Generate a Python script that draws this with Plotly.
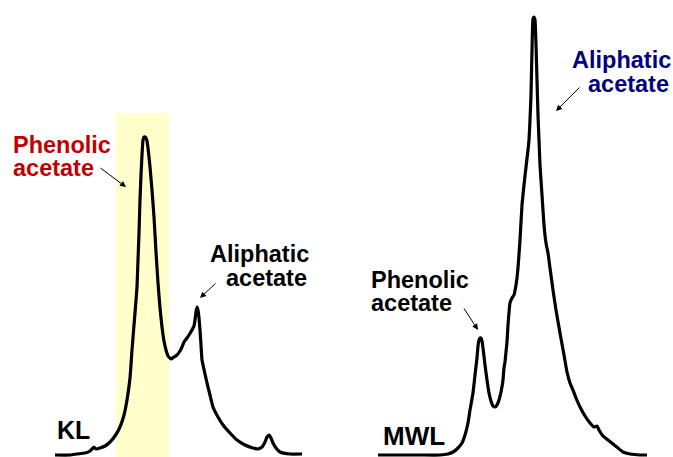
import plotly.graph_objects as go

# ---- data: KL spectrum (position, intensity above baseline) ----
kl_x = [55, 70, 77, 85, 90, 92, 94, 96, 100, 105, 110, 115, 120, 124, 127, 130, 132, 134, 135, 137,
        138, 139, 140, 141, 142, 143, 144, 145, 146, 147, 148, 149, 150, 152, 154, 156, 158, 160, 162,
        164, 166, 168, 171, 174, 177, 180, 182, 184, 187, 189, 192, 194, 195, 196, 197, 198, 199, 200,
        201, 202, 205, 207, 210, 213, 218, 223, 230, 237, 245, 253, 258, 262, 265, 267, 269, 271, 273,
        276, 280, 290, 302]
kl_px = [455, 455, 454, 453, 451, 449, 447, 449, 448, 446, 442, 436, 427, 415, 400, 378, 350, 325, 313, 287,
         260, 233, 200, 175, 155, 140, 137, 137, 138, 141, 148, 157, 167, 190, 217, 252, 283, 308, 327,
         341, 350, 356, 359, 357, 355, 351, 347, 342, 338, 335, 330, 326, 320, 312, 307, 310, 318, 330,
         345, 360, 374, 383, 395, 407, 417, 425, 433, 440, 445, 448, 449, 447, 442, 437, 435, 438, 443,
         448, 452, 454, 454]

# ---- data: MWL spectrum ----
mwl_x = [378, 400, 420, 440, 448, 453, 458, 462, 465, 468, 470, 473, 475, 477, 478, 479, 480, 481, 482, 483,
         485, 487, 489, 491, 493, 495, 497, 499, 501, 503, 504, 505, 506, 507, 508, 510, 512, 514, 516, 517,
         518, 520, 522, 524, 526, 528, 529, 530, 531, 532, 533, 534, 535, 536, 537, 538, 539, 540, 542, 544,
         546, 548, 550, 553, 556, 560, 564, 567, 570, 573, 576, 580, 585, 590, 594, 597, 599, 603, 608, 613,
         618, 623, 630, 640, 647]
mwl_px = [455, 455, 455, 455, 454, 452, 448, 443, 435, 423, 410, 393, 375, 358, 346, 340, 338, 338, 341, 348,
          365, 380, 393, 401, 406, 407, 405, 400, 392, 380, 368, 362, 352, 342, 325, 303, 298, 295, 285, 278,
          268, 240, 205, 185, 167, 150, 140, 120, 95, 50, 19, 17, 20, 45, 80, 115, 140, 165, 195, 225,
          243, 253, 268, 290, 310, 333, 355, 372, 383, 390, 398, 407, 416, 423, 427, 426, 430, 436, 440, 444,
          448, 452, 454, 455, 455]

BASE = 455
kl_y = [BASE - v for v in kl_px]
mwl_y = [BASE - v for v in mwl_px]

def Y(py):
    return BASE - py

fig = go.Figure()
fig.add_trace(go.Scatter(x=kl_x, y=kl_y, mode="lines",
                         line=dict(color="black", width=3.2, shape="spline", smoothing=0.4),
                         hoverinfo="skip", showlegend=False))
fig.add_trace(go.Scatter(x=mwl_x, y=mwl_y, mode="lines",
                         line=dict(color="black", width=3.2, shape="spline", smoothing=0.4),
                         hoverinfo="skip", showlegend=False))

# highlight band
fig.add_shape(type="rect", x0=116, x1=169, y0=Y(113), y1=Y(470), xref="x", yref="y",
              fillcolor="#ffffcc", line=dict(width=0), layer="below")

FONT = "Liberation Sans, Arial, Helvetica, sans-serif"
RED = "#c00000"
BLUE = "#000080"

labels = [
    ("Phenolic", 12, 144.5, "left", RED, 23.5),
    ("acetate", 12, 167.5, "left", RED, 23.5),
    ("Aliphatic", 310, 253.5, "right", "black", 23.5),
    ("acetate", 308, 277.5, "right", "black", 23.5),
    ("Aliphatic", 672, 59.5, "right", BLUE, 23.5),
    ("acetate", 670, 83.5, "right", BLUE, 23.5),
    ("Phenolic", 370, 279.5, "left", "black", 23.5),
    ("acetate", 370, 302.5, "left", "black", 23.5),
    ("KL", 56, 429.5, "left", "black", 25),
    ("MWL", 382, 436, "left", "black", 26),
]
for t, x, py, anc, col, sz in labels:
    fig.add_annotation(x=x, y=Y(py), text=t, showarrow=False, xanchor=anc, yanchor="middle",
                       borderpad=0, font=dict(family=FONT, size=sz, color=col, weight="bold"))

arrows = [
    ((99, 167), (126, 187)),
    ((217, 282), (200, 298)),
    ((581, 86), (556, 111)),
    ((463, 307), (478, 330)),
]
for (tx, ty), (hx, hy) in arrows:
    fig.add_annotation(x=hx, y=Y(hy), ax=tx, ay=Y(ty), xref="x", yref="y", axref="x", ayref="y",
                       text="", showarrow=True, arrowhead=2, arrowsize=1.2, arrowwidth=1,
                       arrowcolor="black")

fig.update_layout(
    width=673, height=457, margin=dict(l=0, r=0, t=0, b=0),
    paper_bgcolor="white", plot_bgcolor="white",
    xaxis=dict(range=[0, 673], visible=False, fixedrange=True),
    yaxis=dict(range=[Y(457), Y(0)], visible=False, fixedrange=True),
)
fig.write_html("out.html", config={"displayModeBar": False},
               post_script="document.body.style.margin='0';document.body.style.overflow='hidden';")
